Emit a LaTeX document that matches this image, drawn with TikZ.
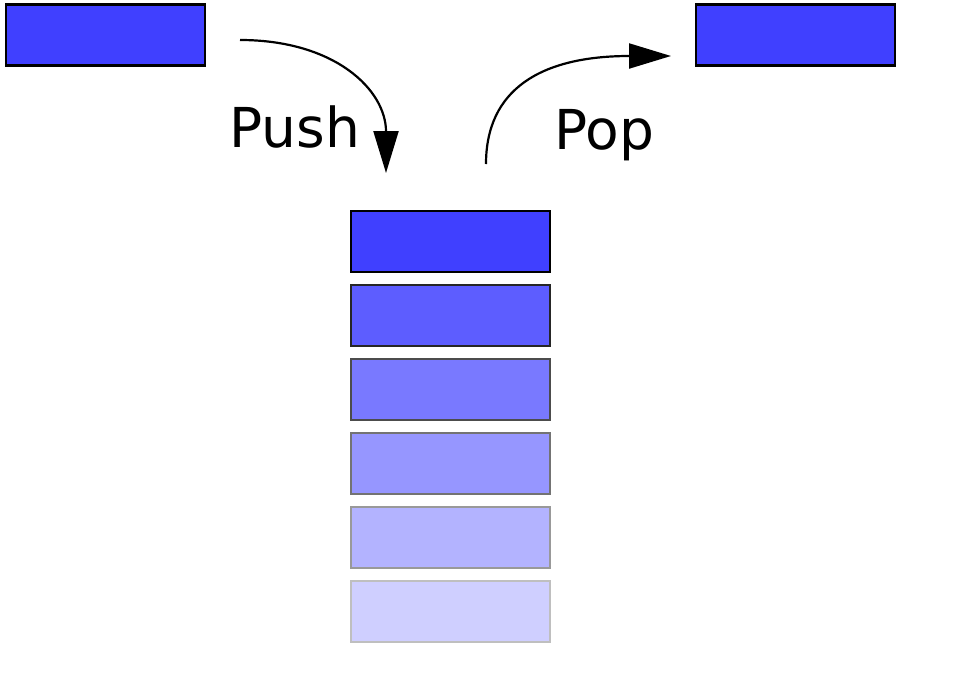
\documentclass[tikz,border=0pt]{standalone}
\usepackage{fontspec}
\setmainfont{DejaVu Sans}
\usetikzlibrary{arrows.meta}
\definecolor{boxblue}{HTML}{4040FF}
\tikzset{
  stackbox/.style={draw=black, line width=2.5pt, fill=boxblue, minimum width=199pt, minimum height=61pt, inner sep=0pt, outer sep=0pt},
  fade/.style={draw=black!#1!white, fill=boxblue!#1!white},
  flow/.style={line width=2.2pt, -{Triangle[length=42pt,width=25pt]}},
  lbl/.style={font=\fontsize{55}{60}\selectfont, inner sep=0pt, anchor=base}
}
\begin{document}
\begin{tikzpicture}[x=1pt,y=-1pt]
\useasboundingbox (0,0) rectangle (960,691);
\fill[white] (0,0) rectangle (960,691);
\node[stackbox] (src) at (105.5,35) {};
\node[stackbox] (dst) at (795.5,35) {};
\node[stackbox] (s1) at (450.5,241.5) {};
\node[stackbox, fade=85] (s2) at (450.5,315.5) {};
\node[stackbox, fade=70] (s3) at (450.5,389.5) {};
\node[stackbox, fade=55] (s4) at (450.5,463.5) {};
\node[stackbox, fade=40] (s5) at (450.5,537.5) {};
\node[stackbox, fade=25] (s6) at (450.5,611.5) {};
\coordinate (pushA) at (240,40);
\coordinate (pushB) at (386,173);
\coordinate (popA) at (486,164);
\coordinate (popB) at (671,56);
\draw[flow] (pushA) .. controls (335,40) and (386,90) .. (pushB);
\draw[flow] (popA) .. controls (486,90) and (540,56) .. (popB);
\node[lbl] (push) at (295,147) {Push};
\node[lbl] (pop) at (604,149) {Pop};
\end{tikzpicture}
\end{document}
